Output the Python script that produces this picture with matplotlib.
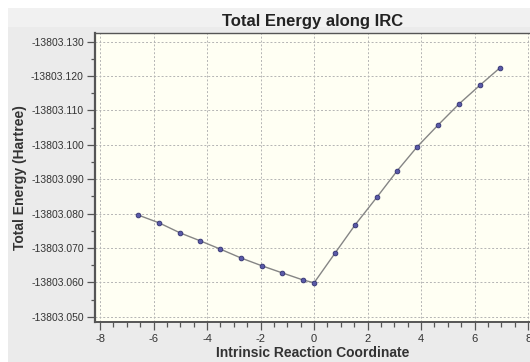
import numpy as np
import matplotlib
matplotlib.use("Agg")
import matplotlib.pyplot as plt
from matplotlib.patches import Rectangle
from matplotlib.ticker import FormatStrFormatter, MultipleLocator

plt.rcParams['font.family'] = ['Liberation Sans', 'DejaVu Sans']
plt.rcParams['axes.unicode_minus'] = False

# IRC points
irc_x = [-6.58, -5.79, -5.01, -4.26, -3.51, -2.73, -1.94, -1.20, -0.41, 0.0,
         0.79, 1.53, 2.36, 3.10, 3.85, 4.64, 5.42, 6.21, 6.95]
energy = [-13803.0796, -13803.0773, -13803.0744, -13803.0721, -13803.0697,
          -13803.0671, -13803.0648, -13803.0628, -13803.0607, -13803.0599,
          -13803.0686, -13803.0767, -13803.0849, -13803.0924, -13803.0994,
          -13803.1058, -13803.1119, -13803.1174, -13803.1224]

W, H = 530, 362
fig = plt.figure(figsize=(W / 100, H / 100), dpi=100)
fig.patch.set_facecolor('white')
# gray panel behind everything, white strip at top/left like the screenshot
fig.patches.append(Rectangle((8 / W, 0), 1, 1 - 8 / H, transform=fig.transFigure,
                             facecolor='#ebebeb', edgecolor='none', zorder=-10))
fig.patches.append(Rectangle((8 / W, 1 - 27 / H), 1, 19 / H, transform=fig.transFigure,
                             facecolor='#f1f1f1', edgecolor='none', zorder=-9))

left, right, top, bottom = 95, 530, 33, 322
ax = fig.add_axes([left / W, 1 - bottom / H, (right - left) / W, (bottom - top) / H])
ax.set_facecolor('#fffff3')

ax.plot(irc_x, energy, '-', color='#858585', lw=1.0, zorder=3)
ax.plot(irc_x, energy, 'o', ms=3.4, mfc='#5a5aa8', mec='#303070', mew=0.6, zorder=4)

ax.set_xlim(-8.19, 8.07)
ax.set_ylim(-13803.0485, -13803.1325)

ax.xaxis.set_major_locator(MultipleLocator(2))
ax.xaxis.set_minor_locator(MultipleLocator(0.5))
ax.yaxis.set_major_locator(MultipleLocator(0.01))
ax.yaxis.set_minor_locator(MultipleLocator(0.005))
ax.yaxis.set_major_formatter(FormatStrFormatter('%.3f'))

ax.grid(True, which='major', color='#b4b4b4', lw=0.7, linestyle=(0, (2, 2)))

ax.spines['right'].set_visible(False)
for s in ['left', 'top', 'bottom']:
    ax.spines[s].set_color('#555555')
ax.spines['left'].set_linewidth(1.6)
ax.spines['top'].set_linewidth(1.0)
ax.spines['bottom'].set_linewidth(1.4)

ax.tick_params(axis='y', which='major', direction='out', length=6, width=0.9,
               color='#555555', labelsize=7.5, labelcolor='#333333', pad=2)
ax.tick_params(axis='y', which='minor', direction='out', length=3, width=0.9, color='#555555')
ax.tick_params(axis='x', which='major', direction='out', length=6, width=0.9,
               color='#555555', labelsize=8, labelcolor='#333333', pad=3)
ax.tick_params(axis='x', which='minor', direction='out', length=3.5, width=0.9, color='#555555')

ax.set_title('Total Energy along IRC', fontsize=12, fontweight='bold', color='#222222', pad=5)
ax.set_xlabel('Intrinsic Reaction Coordinate', fontsize=10, fontweight='bold',
              color='#333333', labelpad=1)
ax.set_ylabel('Total Energy (Hartree)', fontsize=10, fontweight='bold',
              color='#333333', labelpad=3)

fig.savefig('out.png', dpi=100, facecolor=fig.get_facecolor())
